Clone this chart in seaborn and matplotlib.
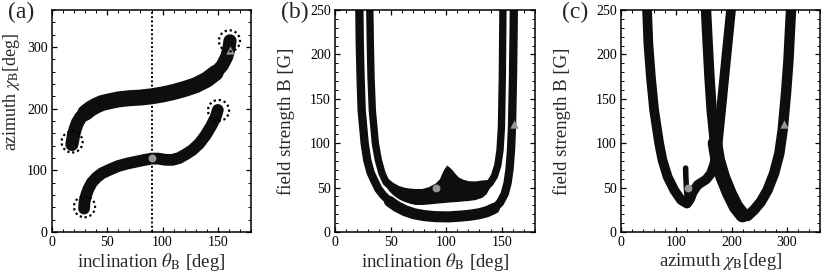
import numpy as np
import pandas as pd
import matplotlib
matplotlib.use("Agg")
import matplotlib.pyplot as plt
import seaborn as sns
from matplotlib.ticker import MultipleLocator

# ---------------- data ----------------
# panel (a): azimuth vs inclination, two solution bands
a_up_x = [18, 19.5, 21, 23, 26, 30, 35, 40, 45, 52, 60, 70, 80, 90, 100, 110, 120, 130, 140, 148, 154, 158, 160, 161]
a_up_y = [142, 157, 167, 177, 186, 193, 200, 205, 209, 212, 215, 217, 218, 220, 223, 227, 232, 238, 247, 258, 270, 284, 297, 310]
a_lo_x = [29, 29.5, 31, 33, 36, 40, 45, 52, 60, 68, 76, 84, 90, 96, 103, 109, 115, 121, 127, 133, 139, 144, 148, 150]
a_lo_y = [38, 50, 60, 70, 80, 88, 95, 101, 107, 111, 114, 117, 119, 119, 117, 117, 120, 126, 133, 143, 157, 172, 186, 198]
a_ring_x = [18.2, 29.4, 150.6, 160.5]
a_ring_y = [146, 41, 197, 310]
a_vline = 90

# panel (b): field strength vs inclination
b_out_x = [21.8, 22.3, 23, 24, 26.7, 29, 32, 35.4, 39, 43.2, 49, 55.2, 63, 71, 80, 90, 102, 114, 122, 130, 137, 143.4, 148.5, 152.7, 155.3, 157, 158.4, 159.3, 160.2, 160.8, 161]
b_out_y = [262, 212, 175, 137, 100, 81, 67, 57.8, 48.5, 41.7, 34.5, 29, 24, 20.6, 18.5, 17.3, 17, 18, 19, 20.6, 23, 26.7, 33, 42.8, 55, 70, 92, 118.6, 175, 231, 262]
b_in_x = [31.2, 31.8, 32.4, 33.6, 36.3, 39, 42.3, 46, 52, 60, 70, 80, 90, 96, 100.5, 105, 111, 120, 129, 135, 139.5, 143.5, 146.5, 148.5, 149.8, 150.6, 151, 151.2]
b_in_y = [262, 212, 175, 137, 100, 81, 66, 56, 49, 44, 41, 41, 44, 50, 56, 53, 48, 46, 47, 50, 55, 63, 75, 92, 118, 175, 231, 262]
b_in_fill_x = [44, 48, 52, 57, 62, 67, 72, 78, 84, 90, 94, 96, 98, 100.5, 103, 105, 108, 111, 115, 120, 126, 132, 136, 139]
b_in_fill_lo = [58, 47, 42, 37.5, 34.5, 32.5, 31, 31, 31.5, 32.3, 32.8, 33, 33.2, 33.5, 33.8, 34, 34.2, 34.5, 35, 35.5, 36.5, 39, 43, 50]
b_in_fill_hi = [64, 60, 56, 52.5, 50.5, 49.5, 49, 49, 51, 55, 60, 66, 71, 75.5, 73, 70.6, 66, 62, 59.5, 57.8, 57.5, 58.6, 59, 58]

# panel (c): field strength vs azimuth
c_left_x = [46.4, 49.5, 54, 60, 69, 75, 84.4, 96.5, 108.6, 119.4, 125, 130, 138.7, 146, 153.8, 162.8, 168.9, 175, 181, 187, 193, 199, 200]
c_left_y = [262, 212.5, 175, 137, 100, 81, 62, 47, 36, 32, 37, 45, 53, 56, 59, 66, 77, 100, 137, 175, 212.5, 250, 262]
c_spike_x = [120, 118.5, 117.5, 117, 117]
c_spike_y = [36, 48, 60, 68, 72]
c_right_x = [153, 153.8, 156.8, 160, 164, 170, 175, 184, 196, 208, 220, 229, 241, 253, 265, 277, 286.5, 292.5, 298.5, 303, 306, 307.6, 308]
c_right_y = [262, 250, 212.5, 175, 137, 100, 81, 62, 43.5, 28.5, 19, 18, 25, 34, 47, 66, 88.6, 115, 156, 194, 231, 250, 262]

# reference solution markers
circ_a = (90, 120); tri_a = (160.6, 295)
circ_b = (90.6, 49); tri_b = (161, 122)
circ_c = (120.6, 49); tri_c = (295.5, 122)

INK = "#0e0e0e"
GRAY = "#8e9c99"

# ---------------- styling ----------------
sns.set_theme(style="ticks")
plt.rcParams["font.family"] = ["Liberation Serif", "DejaVu Serif"]
plt.rcParams["mathtext.fontset"] = "stix"
plt.rcParams["axes.linewidth"] = 1.1

fig = plt.figure(figsize=(8.3, 2.77), dpi=100)
W, H = 830.0, 277.0
bot = (H - 232) / H
hgt = 222 / H
ax_a = fig.add_axes([52 / W, bot, 199 / W, hgt])
ax_b = fig.add_axes([335 / W, bot, 200 / W, hgt])
ax_c = fig.add_axes([621 / W, bot, 199 / W, hgt])


def band(ax, x, y, lw):
    sns.lineplot(x=x, y=y, ax=ax, sort=False, estimator=None, color=INK,
                 linewidth=lw, solid_capstyle="round", solid_joinstyle="round",
                 legend=False)


def markers(ax, circ, tri):
    sns.scatterplot(x=[circ[0]], y=[circ[1]], ax=ax, marker="o", s=32,
                    color=GRAY, linewidth=0, zorder=5, legend=False)
    sns.scatterplot(x=[tri[0]], y=[tri[1]], ax=ax, marker="^", s=36,
                    color=GRAY, linewidth=0, zorder=5, legend=False)


def style(ax, xmax, ymax, xmaj, xmin, ymaj, ymin):
    ax.set_xlim(0, xmax)
    ax.set_ylim(0, ymax)
    ax.xaxis.set_major_locator(MultipleLocator(xmaj))
    ax.xaxis.set_minor_locator(MultipleLocator(xmin))
    ax.yaxis.set_major_locator(MultipleLocator(ymaj))
    ax.yaxis.set_minor_locator(MultipleLocator(ymin))
    ax.tick_params(which="both", direction="in", top=True, right=True,
                   colors="black", labelsize=10, pad=3)
    ax.tick_params(which="major", length=3.5, width=0.9)
    ax.tick_params(which="minor", length=2, width=0.7)
    for s in ax.spines.values():
        s.set_color("black")
        s.set_visible(True)


# panel (a)
ax_a.axvline(a_vline, color="black", linestyle=(0, (1, 1.2)), linewidth=1.4, zorder=1)
band(ax_a, a_up_x, a_up_y, 9.5)
band(ax_a, a_up_x[5:20], a_up_y[5:20], 11.5)
band(ax_a, a_lo_x, a_lo_y, 8.5)
ax_a.scatter(a_ring_x, a_ring_y, s=230, facecolors="none", edgecolors="black",
             linewidths=1.6, linestyles=(0, (1, 1.3)), zorder=6)
markers(ax_a, circ_a, tri_a)
style(ax_a, 180, 360, 50, 10, 100, 20)
ax_a.set_xlabel(r"inclination $\theta_\mathrm{B}$ [deg]", fontsize=13.5, labelpad=1)
ax_a.set_ylabel(r"azimuth $\chi_\mathrm{B}$[deg]", fontsize=13)
ax_a.yaxis.set_label_coords(-0.15, 0.63)

# panel (b)
band(ax_b, b_out_x, b_out_y, 6.0)
band(ax_b, b_out_x[10:22], b_out_y[10:22], 8.0)
band(ax_b, b_in_x, b_in_y, 5.3)
ax_b.fill_between(b_in_fill_x, b_in_fill_lo, b_in_fill_hi, color=INK, linewidth=0)
markers(ax_b, circ_b, tri_b)
style(ax_b, 180, 250, 50, 10, 50, 10)
ax_b.set_xlabel(r"inclination $\theta_\mathrm{B}$ [deg]", fontsize=13.5, labelpad=1)
ax_b.set_ylabel("field strength B [G]", fontsize=13.5)
ax_b.yaxis.set_label_coords(-0.2, 0.5)

# panel (c)
band(ax_c, c_left_x, c_left_y, 7.0)
band(ax_c, c_spike_x, c_spike_y, 4.0)
band(ax_c, c_right_x, c_right_y, 7.5)
band(ax_c, c_right_x[5:11], c_right_y[5:11], 10.5)
markers(ax_c, circ_c, tri_c)
style(ax_c, 360, 250, 100, 20, 50, 10)
ax_c.set_xlabel(r"azimuth $\chi_\mathrm{B}$[deg]", fontsize=13.5, labelpad=1)
ax_c.set_ylabel("field strength B [G]", fontsize=13.5)
ax_c.yaxis.set_label_coords(-0.25, 0.5)

for lbl, xp in (("(a)", 8), ("(b)", 281), ("(c)", 562)):
    fig.text(xp / W, 1 - 2 / H, lbl, fontsize=17, ha="left", va="top")

fig.savefig("out.png", dpi=100)
